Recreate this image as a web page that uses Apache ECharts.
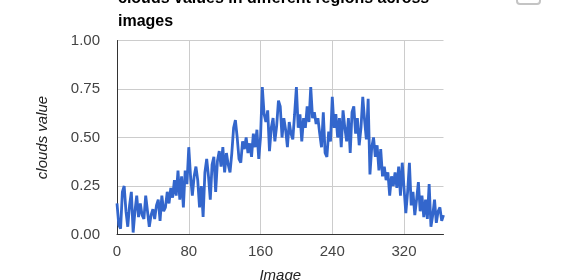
<!DOCTYPE html>
<html>
<head>
<meta charset="utf-8">
<script src="https://cdn.jsdelivr.net/npm/echarts@6/dist/echarts.min.js"></script>
<style>
html,body{margin:0;padding:0;background:#fff;overflow:hidden;}
#chart{width:567px;height:280px;}
</style>
</head>
<body>
<div id="chart"></div>
<script>
var titleLines = ["clouds values in different regions across", "images"];
var xAxisTitle = "Image";
var yAxisTitle = "clouds value";
var xTicks = [0, 80, 160, 240, 320];
var yTicks = ["0.00", "0.25", "0.50", "0.75", "1.00"];
var imageStep = 2;
var cloudValues = [
  0.16, 0.05, 0.03, 0.22, 0.25, 0.12, 0.04, 0.15, 0.22, 0.01, 0.12, 0.20, 0.09, 0.16, 0.10, 0.08, 0.20, 0.12, 0.04, 0.10, 0.13, 0.08, 0.15, 0.18, 0.07, 0.20, 0.12, 0.14, 0.22, 0.16, 0.24, 0.19, 0.28, 0.20,
  0.33, 0.18, 0.30, 0.14, 0.33, 0.26, 0.45, 0.30, 0.20, 0.30, 0.35, 0.28, 0.14, 0.25, 0.09, 0.32, 0.39,
  0.30, 0.18, 0.36, 0.40, 0.22, 0.38, 0.43, 0.35, 0.45, 0.32, 0.42, 0.36, 0.32, 0.42, 0.55, 0.59, 0.50, 0.39,
  0.37, 0.48, 0.44, 0.50, 0.42, 0.47, 0.40, 0.52, 0.45, 0.54, 0.39, 0.50, 0.76,
  0.62, 0.58, 0.64, 0.43, 0.55, 0.60, 0.48, 0.56, 0.69, 0.66, 0.50, 0.60, 0.54, 0.45, 0.58, 0.52, 0.49, 0.62, 0.76, 0.55,
  0.62, 0.48, 0.60, 0.55, 0.66, 0.58, 0.76, 0.60, 0.63, 0.57, 0.60, 0.52, 0.45, 0.63, 0.42, 0.40, 0.53, 0.48, 0.71, 0.55, 0.62,
  0.50, 0.60, 0.45, 0.64, 0.55, 0.48, 0.60, 0.42, 0.63, 0.66, 0.52, 0.60, 0.46, 0.55, 0.71, 0.59, 0.49, 0.70, 0.31, 0.45,
  0.50, 0.40, 0.46, 0.33, 0.44, 0.30, 0.35, 0.28, 0.32, 0.20, 0.30, 0.25, 0.32, 0.24, 0.35, 0.20, 0.37, 0.38, 0.11, 0.22,
  0.37, 0.15, 0.22, 0.10, 0.18, 0.27, 0.12, 0.20, 0.09, 0.18, 0.08, 0.26, 0.04, 0.10, 0.18, 0.06, 0.12, 0.14, 0.07, 0.10
];

var seriesData = cloudValues.map(function (v, i) { return [i * imageStep, v]; });
var xMax = (cloudValues.length - 1) * imageStep;

var chart = echarts.init(document.getElementById('chart'), null, {renderer: 'canvas'});
var FONT = '"Liberation Sans", Arial, sans-serif';
var titleStyle = {fontFamily: FONT, fontSize: 16, fontWeight: 'bold', fill: '#000'};
chart.setOption({
  animation: false,
  backgroundColor: '#ffffff',
  graphic: [
    {type: 'text', x: 118, y: -9, style: Object.assign({text: titleLines[0]}, titleStyle)},
    {type: 'text', x: 118, y: 14, style: Object.assign({text: titleLines[1]}, titleStyle)},
    {type: 'rect', shape: {x: 517, y: -16, width: 23, height: 20, r: 3},
     style: {fill: '#fff', stroke: '#c4c4c4', lineWidth: 2}}
  ],
  grid: {left: 117, right: 123.5, top: 40.5, bottom: 45.5, containLabel: false, outerBoundsMode: 'none'},
  xAxis: {
    type: 'value',
    min: 0,
    max: xMax,
    interval: 80,
    name: xAxisTitle,
    nameLocation: 'middle',
    nameGap: 34,
    nameTextStyle: {fontFamily: FONT, fontSize: 15, fontStyle: 'italic', color: '#222'},
    axisLine: {show: true, lineStyle: {color: '#333', width: 1}},
    axisTick: {show: false},
    axisLabel: {
      fontFamily: FONT, fontSize: 15, color: '#444', margin: 10,
      showMaxLabel: false,
      formatter: function (v) { return xTicks.indexOf(v) >= 0 ? String(v) : ''; }
    },
    splitLine: {show: true, lineStyle: {color: ['#cccccc', '#cccccc', '#cccccc', '#cccccc', '#cccccc', 'rgba(0,0,0,0)'], width: 1}}
  },
  yAxis: {
    type: 'value',
    min: 0,
    max: 1,
    interval: 0.25,
    name: yAxisTitle,
    nameLocation: 'middle',
    nameGap: 67,
    nameRotate: 90,
    nameTextStyle: {fontFamily: FONT, fontSize: 15, fontStyle: 'italic', color: '#222'},
    axisLine: {show: true, lineStyle: {color: '#333', width: 1}},
    axisTick: {show: false},
    axisLabel: {
      fontFamily: FONT, fontSize: 15, color: '#444', margin: 17,
      formatter: function (v) { return yTicks[Math.round(v / 0.25)]; }
    },
    splitLine: {show: true, lineStyle: {color: '#cccccc', width: 1}}
  },
  series: [{
    type: 'line',
    data: seriesData,
    showSymbol: false,
    symbol: 'none',
    lineStyle: {color: '#3366cc', width: 2.8},
    itemStyle: {color: '#3366cc'}
  }]
});
</script>
</body>
</html>
